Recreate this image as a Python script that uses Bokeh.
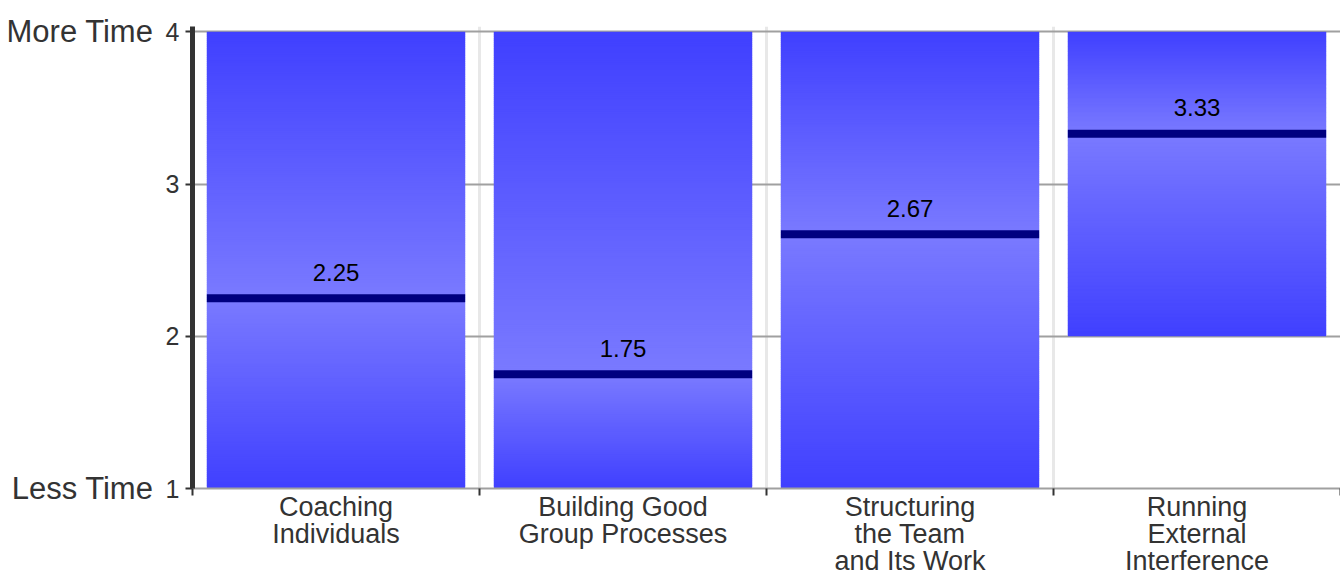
from bokeh.plotting import figure
from bokeh.models import Range1d, FixedTicker, LinearAxis, ColumnDataSource
from bokeh.embed import file_html
from bokeh.resources import INLINE

# ---- data ----
categories = ["Coaching\nIndividuals", "Building Good\nGroup Processes",
              "Structuring\nthe Team\nand Its Work", "Running\nExternal\nInterference"]
lows = [1, 1, 1, 2]
highs = [4, 4, 4, 4]
medians = [2.25, 1.75, 2.67, 3.33]
y_ticks = [1, 2, 3, 4]
y_end_labels = {1: "Less Time", 4: "More Time"}

FONT = "Liberation Sans"
DARK = (64, 64, 255)
LIGHT = (122, 122, 255)
BAR_W = 0.9

p = figure(width=1340, height=578, output_backend="svg", toolbar_location=None,
           x_range=Range1d(0, len(categories)), y_range=Range1d(1, 4.035),
           min_border_left=192, min_border_right=0, min_border_top=26,
           min_border_bottom=80)
p.outline_line_color = None
p.background_fill_color = "white"

# ---- gradient bars ----
N = 240
L, R, B, T, C = [], [], [], [], []
for i, (lo, hi, md) in enumerate(zip(lows, highs, medians)):
    cx = i + 0.5
    step = (hi - lo) / N
    for k in range(N):
        y0 = lo + step * k
        y1 = min(hi, y0 + step * 1.8)
        ym = y0 + step / 2
        if ym >= md:
            t = (ym - md) / (hi - md) if hi > md else 0
        else:
            t = (md - ym) / (md - lo) if md > lo else 0
        t = min(max(t, 0), 1)
        col = tuple(int(round(LIGHT[j] + (DARK[j] - LIGHT[j]) * t)) for j in range(3))
        L.append(cx - BAR_W / 2); R.append(cx + BAR_W / 2)
        B.append(y0); T.append(y1)
        C.append("#%02x%02x%02x" % col)
src = ColumnDataSource(dict(left=L, right=R, bottom=B, top=T, color=C))
p.quad(left="left", right="right", bottom="bottom", top="top", source=src,
       fill_color="color", line_color=None)

# ---- medians ----
cx = [i + 0.5 for i in range(len(categories))]
msrc = ColumnDataSource(dict(x0=[c - BAR_W / 2 for c in cx], x1=[c + BAR_W / 2 for c in cx],
                             x=cx, y=medians, label=["%.2f" % m for m in medians]))
p.segment(x0="x0", x1="x1", y0="y", y1="y", source=msrc, line_color="#000080",
          line_width=8)
p.text(x="x", y="y", text="label", source=msrc, text_align="center",
       text_baseline="alphabetic", y_offset=-26, text_font_size="24px",
       text_color="black", text_font={"value": FONT})

# ---- grids ----
p.ygrid.ticker = FixedTicker(ticks=y_ticks)
p.ygrid.grid_line_color = "#a0a0a0"
p.ygrid.grid_line_width = 2
p.xgrid.ticker = FixedTicker(ticks=[1, 2, 3, 4])
p.xgrid.grid_line_color = "#e8e8e8"
p.xgrid.grid_line_width = 3

# ---- x axis ----
xa = p.xaxis[0]
xa.ticker = FixedTicker(ticks=cx, minor_ticks=list(range(len(categories) + 1)))
xa.major_label_overrides = {c: lab for c, lab in zip(cx, categories)}
xa.major_tick_line_color = None
xa.major_tick_out = 0
xa.major_tick_in = 0
xa.minor_tick_line_color = "#333333"
xa.minor_tick_line_width = 2
xa.minor_tick_out = 7
xa.minor_tick_in = 0
xa.axis_line_color = "#a0a0a0"
xa.axis_line_width = 2
xa.major_label_standoff = -4
xa.major_label_text_font = FONT
xa.major_label_text_font_size = "27px"
xa.major_label_text_color = "#333333"
xa.major_label_text_line_height = 0.9

# ---- y axis ----
ya = p.yaxis[0]
ya.ticker = FixedTicker(ticks=y_ticks, minor_ticks=[])
ya.axis_line_color = "#333333"
ya.axis_line_width = 5
ya.major_tick_line_color = "#333333"
ya.major_tick_line_width = 2
ya.major_tick_out = 7
ya.major_tick_in = 0
ya.major_label_standoff = 6
ya.major_label_text_font = FONT
ya.major_label_text_font_size = "25px"
ya.major_label_text_color = "#333333"

ya2 = LinearAxis(ticker=FixedTicker(ticks=list(y_end_labels.keys()), minor_ticks=[]),
                 major_label_overrides=y_end_labels)
ya2.axis_line_color = None
ya2.major_tick_line_color = None
ya2.major_tick_out = 0
ya2.major_tick_in = 0
ya2.minor_tick_line_color = None
ya2.major_label_standoff = 9
ya2.major_label_text_font = FONT
ya2.major_label_text_font_size = "31px"
ya2.major_label_text_color = "#333333"
p.add_layout(ya2, "left")

open("out.html", "w").write(file_html(p, INLINE))
